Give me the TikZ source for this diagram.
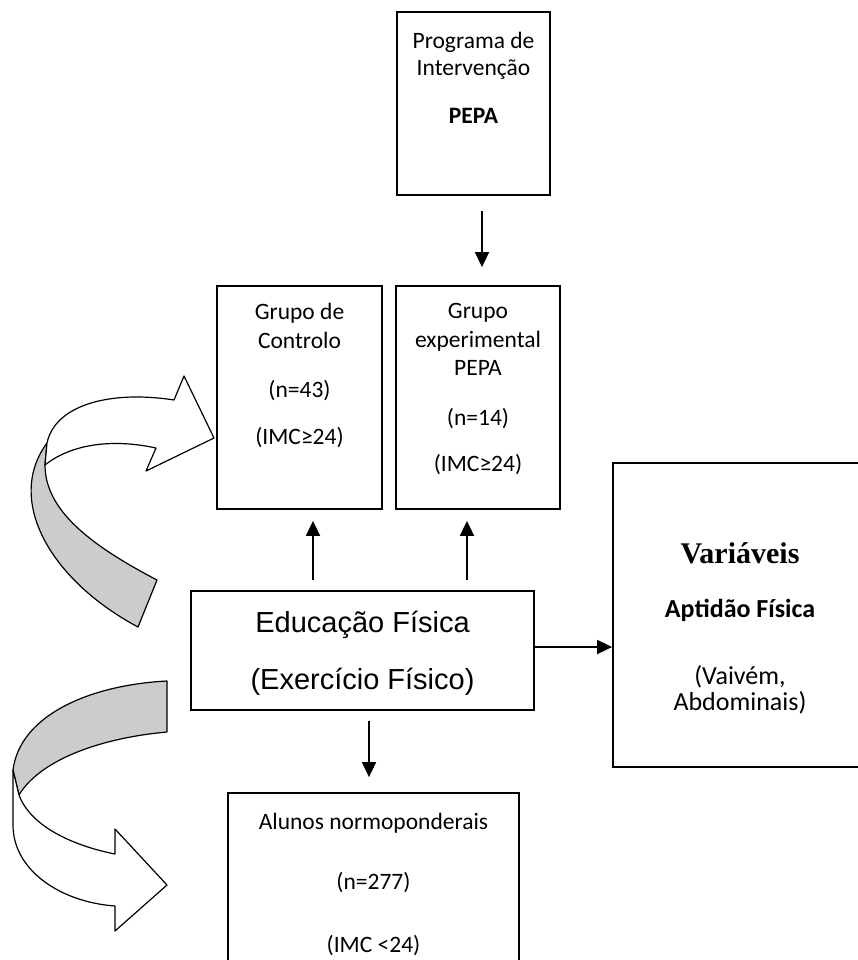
\documentclass[tikz,border=0pt]{standalone}
\usepackage{fontspec}
\setmainfont{Carlito}
\newfontfamily\arialfont{Liberation Sans}
\newfontfamily\timesfont{Liberation Serif}
\usetikzlibrary{positioning, arrows.meta}
\newcommand\tightlines{\lineskiplimit=-50pt\relax}
\tikzstyle{box} = [
    rectangle,
    inner sep=0pt,
    line width=1.8pt,
    draw=black
]
\tikzstyle{boxtext} = [
    align=center,
    inner sep=0pt,
    font=\fontsize{23.5}{28.5}\selectfont
]
\tikzstyle{ribbon} = [
    line width=1.2pt,
    line join=round,
    draw=black
]
\tikzstyle{arrow} = [line width=1.8pt,-{Triangle[length=15pt,width=14pt]}]

\begin{document}
\begin{tikzpicture}[x=1pt,y=-1pt]
\useasboundingbox (0,0) rectangle (857,960);

\node (pepa) [box, minimum width=153pt, minimum height=183pt] at (473.5,103.5) {};
\node (ctrl) [box, minimum width=165pt, minimum height=223pt] at (299.5,397.5) {};
\node (expr) [box, minimum width=164pt, minimum height=223pt] at (478,397.5) {};
\node (edu) [box, minimum width=343pt, minimum height=119pt] at (362.5,650.5) {};
\node (var) [box, minimum width=254pt, minimum height=304pt] at (740,615) {};
\node (alunos) [box, minimum width=291pt, minimum height=200pt] at (373.5,893) {};

\node (pepatxt) [boxtext, font=\fontsize{23.5}{27}\selectfont, below=21pt of pepa.north]
{Programa de\\Intervenção\\[21pt]\textbf{PEPA}};

\node (ctrltxt) [boxtext, below=18pt of ctrl.north]
{Grupo de\\Controlo\\[21pt](n=43)\\[18pt](IMC≥24)};

\node (exprtxt) [boxtext, below=18pt of expr.north]
{Grupo\\experimental\\PEPA\\[21pt](n=14)\\[18pt](IMC≥24)};

\node (edutxt) [boxtext, font=\arialfont\fontsize{29}{35}\selectfont, below=21pt of edu.north]
{Educação Física\\[22pt](Exercício Físico)};

\node (vartxt) [boxtext, font=\fontsize{26}{26}\selectfont\tightlines, below=80pt of var.north]
{{\timesfont\bfseries\fontsize{30}{26}\selectfont Variáveis}\\[28pt]
\textbf{Aptidão Física}\\[41pt](Vaivém,\\Abdominais)};

\node (alunostxt) [boxtext, below=21pt of alunos.north]
{Alunos normoponderais\\[31.5pt](n=277)\\[34pt](IMC <24)};

\draw [arrow, shorten <=15pt, shorten >=18pt] ([xshift=8.5pt]pepa.south) -- ([xshift=8.5pt]pepa.south |- expr.north);
\draw [arrow, shorten <=10pt, shorten >=11pt] ([xshift=-49.5pt]edu.north) -- ([xshift=-49.5pt]edu.north |- ctrl.south);
\draw [arrow, shorten <=10pt, shorten >=11pt] ([xshift=104.5pt]edu.north) -- ([xshift=104.5pt]edu.north |- expr.south);
\draw [arrow] ([yshift=3.5pt]edu.east) -- ([yshift=3.5pt]edu.east -| var.west);
\draw [arrow, shorten <=10pt, shorten >=15pt] ([xshift=6.5pt]edu.south) -- ([xshift=6.5pt]edu.south |- alunos.north);

\draw [ribbon, fill=gray!40] (47,443) .. controls (5,500) and (50,580) .. (138,627)
    -- (157,580) .. controls (90,545) and (45,510) .. (45,465) -- cycle;
\draw [ribbon, fill=white] (47,443) .. controls (55,405) and (110,390) .. (174,400)
    -- (184,376) -- (214,438) -- (146,471) -- (156,448)
    .. controls (110,438) and (70,445) .. (45,465) -- cycle;

\draw [ribbon, fill=gray!40] (167,681) .. controls (90,685) and (20,715) .. (13,770)
    -- (19,795) .. controls (40,760) and (100,738) .. (167,732) -- cycle;
\draw [ribbon, fill=white] (13,770) -- (13,825) .. controls (13,870) and (60,902) .. (115,906)
    -- (115,931) -- (167,885) -- (115,829) -- (115,854)
    .. controls (70,845) and (30,825) .. (19,795) -- cycle;

\end{tikzpicture}
\end{document}
